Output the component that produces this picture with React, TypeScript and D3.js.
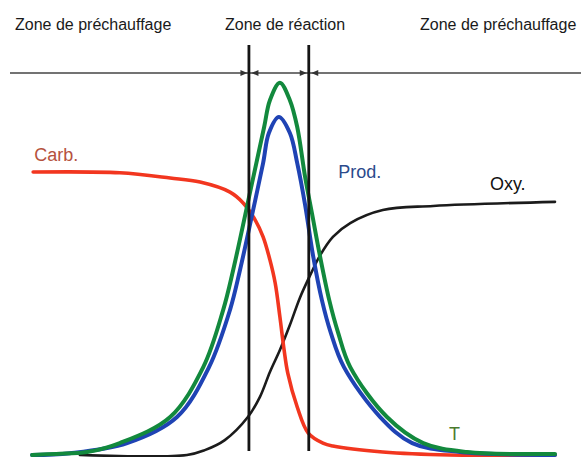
import React from "react";
import * as d3 from "d3";

// Position along the flame (0..100) and relative magnitude (0..100)
const tempX = [0.4, 5, 10.9, 17.1, 26.7, 33, 36.8, 38.7, 42.3, 44.6, 45.7, 47.6, 49.5, 50.9, 52.4, 53.7, 55.2, 57, 58.7, 61, 68, 74.9, 83.2, 100];
const tempY = [0, 0.3, 0.8, 3.2, 10.2, 23.6, 39, 49.7, 73.1, 88.1, 95.3, 100, 95.3, 88.1, 74.7, 65, 53.7, 41.6, 32.8, 23.6, 10.2, 3.2, 0.8, 0.3];

const prodX = [0.4, 7.6, 18.5, 28, 34.1, 38.1, 40, 42.3, 44.4, 45.5, 47.4, 49.5, 50.9, 52.4, 53.9, 55.6, 57.3, 59.8, 66.7, 72.8, 81.9, 100];
const prodY = [0, 0.5, 3.2, 10.2, 23.6, 39, 49.7, 64.5, 78.4, 86.5, 90.8, 86.5, 78.4, 67.2, 53.7, 41.6, 32.8, 23.6, 10.2, 3.2, 0.8, 0];

const carbX = [0.6, 17.1, 26.7, 32.4, 38.1, 40.6, 42.9, 44.4, 45.7, 46.7, 47.6, 48.4, 49.1, 50.9, 53, 55.8, 57.7, 67.2, 80, 100];
const carbY = [76, 75.8, 74.4, 73.3, 70.6, 67.7, 63.1, 58.6, 52.4, 46.2, 37.1, 28.2, 22, 12.9, 5.9, 3.2, 2.4, 0.8, 0, 0];

const oxyX = [9.5, 29.9, 33.3, 37.1, 41.5, 43.8, 45.7, 47.6, 49.5, 51.4, 53.3, 55.2, 57.7, 61, 67.2, 76.8, 100];
const oxyY = [0, 0, 1.3, 4, 10.2, 15.6, 22.3, 28.2, 34.9, 42.2, 48.1, 53.5, 58.6, 62.3, 65.8, 66.9, 68];

// Zone boundaries (x positions of the two vertical lines)
const zoneBounds = [41.7, 53.1];
const zoneTitles = ["Zone de préchauffage", "Zone de réaction", "Zone de préchauffage"];

// Curve labels
const labelNames = ["Carb.", "Prod.", "Oxy.", "T"];
const labelX = [0.8, 58.7, 87.6, 79.8];
const labelY = [79, 74.4, 71.2, 4];

const W = 581;
const H = 457;

const x = d3.scaleLinear().domain([0, 100]).range([30, 555]);
const y = d3.scaleLinear().domain([0, 100]).range([455, 82.7]);

const zip = (xs: number[], ys: number[]) => xs.map((v, i) => [v, ys[i]] as [number, number]);

const line = d3
  .line<[number, number]>()
  .x((d) => x(d[0]))
  .y((d) => y(d[1]))
  .curve(d3.curveCatmullRom.alpha(0.5));

const series = [
  { xs: oxyX, ys: oxyY, color: "#1b1b1b", width: 2.6 },
  { xs: carbX, ys: carbY, color: "#f2361f", width: 3.6 },
  { xs: prodX, ys: prodY, color: "#1f43b4", width: 4 },
  { xs: tempX, ys: tempY, color: "#12893d", width: 4 },
];

const labelColors = ["#b5523e", "#2b4a8c", "#111111", "#4a7a2e"];

export default function App() {
  const arrowY = 73;
  const vTop = 45;
  const vBottom = 451;
  const b0 = x(zoneBounds[0]);
  const b1 = x(zoneBounds[1]);
  const headX = [15, 225, 420];

  const arrow = (tip: number, dir: number, key: string) => (
    <path
      key={key}
      d={`M${tip},${arrowY} L${tip - dir * 7},${arrowY - 3} L${tip - dir * 7},${arrowY + 3} Z`}
      fill="#333"
    />
  );

  return (
    <svg
      width={W}
      height={H}
      style={{ position: "absolute", left: 0, top: 0, background: "#fff" }}
      fontFamily="'Liberation Sans', Arial, sans-serif"
    >
      <rect width={W} height={H} fill="#fff" />
      {zoneTitles.map((t, i) => (
        <text key={i} x={headX[i]} y={30} fontSize={16} fill="#1a1a1a">
          {t}
        </text>
      ))}
      {/* zone extent line with arrows */}
      <line x1={10} x2={W} y1={arrowY} y2={arrowY} stroke="#444" strokeWidth={1.3} />
      {arrow(b0 - 1.5, 1, "a1")}
      {arrow(b0 + 2.5, -1, "a2")}
      {arrow(b1 - 2, 1, "a3")}
      {arrow(b1 + 2.5, -1, "a4")}

      {series.map((s, i) => (
        <path
          key={i}
          d={line(zip(s.xs, s.ys)) || ""}
          fill="none"
          stroke={s.color}
          strokeWidth={s.width}
          strokeLinejoin="round"
          strokeLinecap="round"
        />
      ))}

      {zoneBounds.map((b, i) => (
        <line key={i} x1={x(b)} x2={x(b)} y1={vTop} y2={vBottom} stroke="#151515" strokeWidth={2.8} />
      ))}

      {labelNames.map((n, i) => (
        <text key={n} x={x(labelX[i])} y={y(labelY[i])} fontSize={18} fill={labelColors[i]}>
          {n}
        </text>
      ))}
    </svg>
  );
}
